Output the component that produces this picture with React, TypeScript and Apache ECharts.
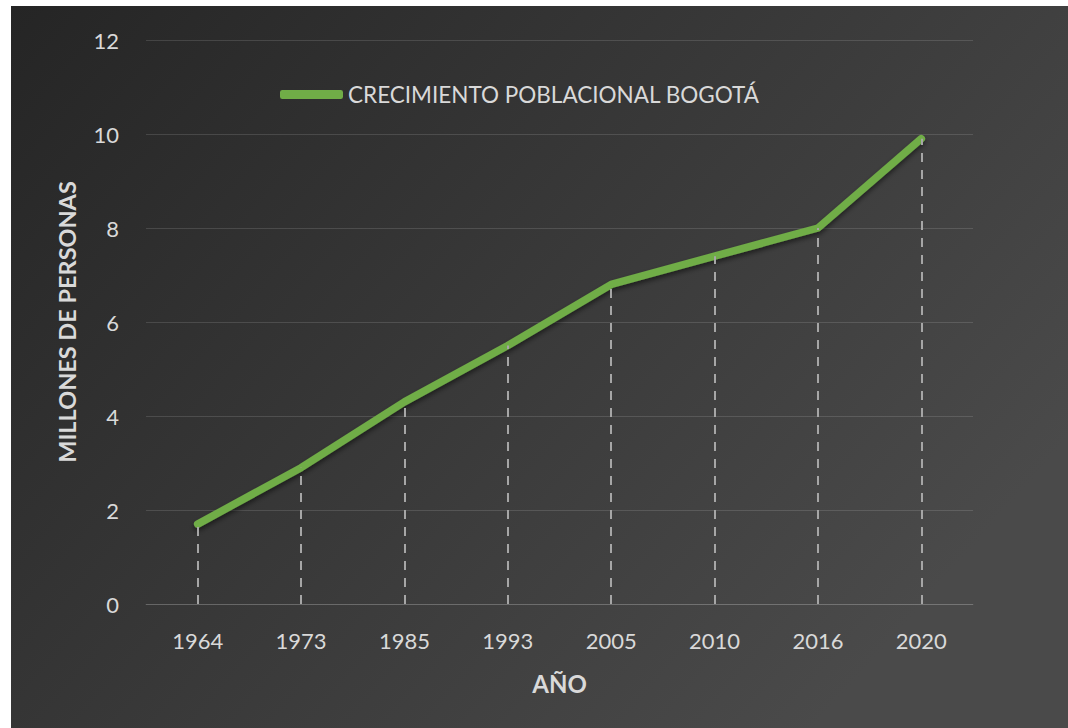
import React, { useEffect, useRef } from "react";
import * as echarts from "echarts";

const categories = ["1964", "1973", "1985", "1993", "2005", "2010", "2016", "2020"];
const poblacion = [1.7, 2.9, 4.3, 5.5, 6.8, 7.4, 8.0, 9.9];
const seriesName = "CRECIMIENTO POBLACIONAL BOGOTÁ";
const yAxisName = "MILLONES DE PERSONAS";
const xAxisName = "AÑO";

const FONT = "Lato, 'Open Sans', sans-serif";
const TEXT = "#d9d9d9";

export default function App() {
  const ref = useRef<HTMLDivElement>(null);
  useEffect(() => {
    if (!ref.current) return;
    const chart = echarts.init(ref.current, null, { renderer: "svg" });
    const dropLines = categories.map((c, i) => [
      { xAxis: c, yAxis: 0 },
      { xAxis: c, yAxis: poblacion[i] },
    ]);
    chart.setOption({
      animation: false,
      backgroundColor: {
        type: "linear",
        x: 0,
        y: 0,
        x2: 1,
        y2: 0.6,
        colorStops: [
          { offset: 0, color: "#252525" },
          { offset: 1, color: "#4a4a4a" },
        ],
      },
      textStyle: { fontFamily: FONT },
      grid: { left: 135, right: 95, top: 34, bottom: 124 },
      legend: {
        data: [seriesName],
        left: 264,
        top: 72,
        itemWidth: 63,
        itemHeight: 9,
        icon: "roundRect",
        textStyle: { color: TEXT, fontSize: 22.5, fontFamily: FONT },
      },
      xAxis: {
        type: "category",
        data: categories,
        boundaryGap: true,
        axisLine: { show: true, lineStyle: { color: "rgba(255,255,255,0.13)", width: 1 } },
        axisTick: { show: false },
        axisLabel: { color: TEXT, fontSize: 22, margin: 25, fontFamily: FONT },
        name: xAxisName,
        nameLocation: "middle",
        nameGap: 67,
        nameTextStyle: { color: TEXT, fontSize: 24, fontWeight: "bold", fontFamily: FONT },
      },
      yAxis: {
        type: "value",
        min: 0,
        max: 12,
        interval: 2,
        axisLine: { show: false },
        axisTick: { show: false },
        splitLine: { lineStyle: { color: "rgba(255,255,255,0.13)", width: 1 } },
        axisLabel: { color: TEXT, fontSize: 22, margin: 27, fontFamily: FONT },
        name: yAxisName,
        nameLocation: "middle",
        nameGap: 67,
        nameRotate: 90,
        nameTextStyle: { color: TEXT, fontSize: 23.5, fontWeight: "bold", fontFamily: FONT },
      },
      series: [
        {
          name: "drop",
          type: "line",
          data: poblacion,
          z: 1,
          silent: true,
          symbol: "none",
          lineStyle: { opacity: 0 },
          markLine: {
            silent: true,
            symbol: "none",
            label: { show: false },
            lineStyle: { color: "#a6a6a6", type: [9, 8], width: 2 },
            data: dropLines,
          },
        },
        {
          name: seriesName,
          type: "line",
          data: poblacion,
          z: 3,
          symbol: "none",
          color: "#70ad47",
          lineStyle: {
            color: "#70ad47",
            width: 7.5,
            cap: "round",
            join: "round",
            shadowColor: "rgba(0,0,0,0.5)",
            shadowBlur: 5,
            shadowOffsetY: 3,
          },
        },
      ],
    });
    return () => chart.dispose();
  }, []);
  return (
    <div
      ref={ref}
      style={{ position: "absolute", left: 11, top: 6, width: 1057, height: 722 }}
    />
  );
}
